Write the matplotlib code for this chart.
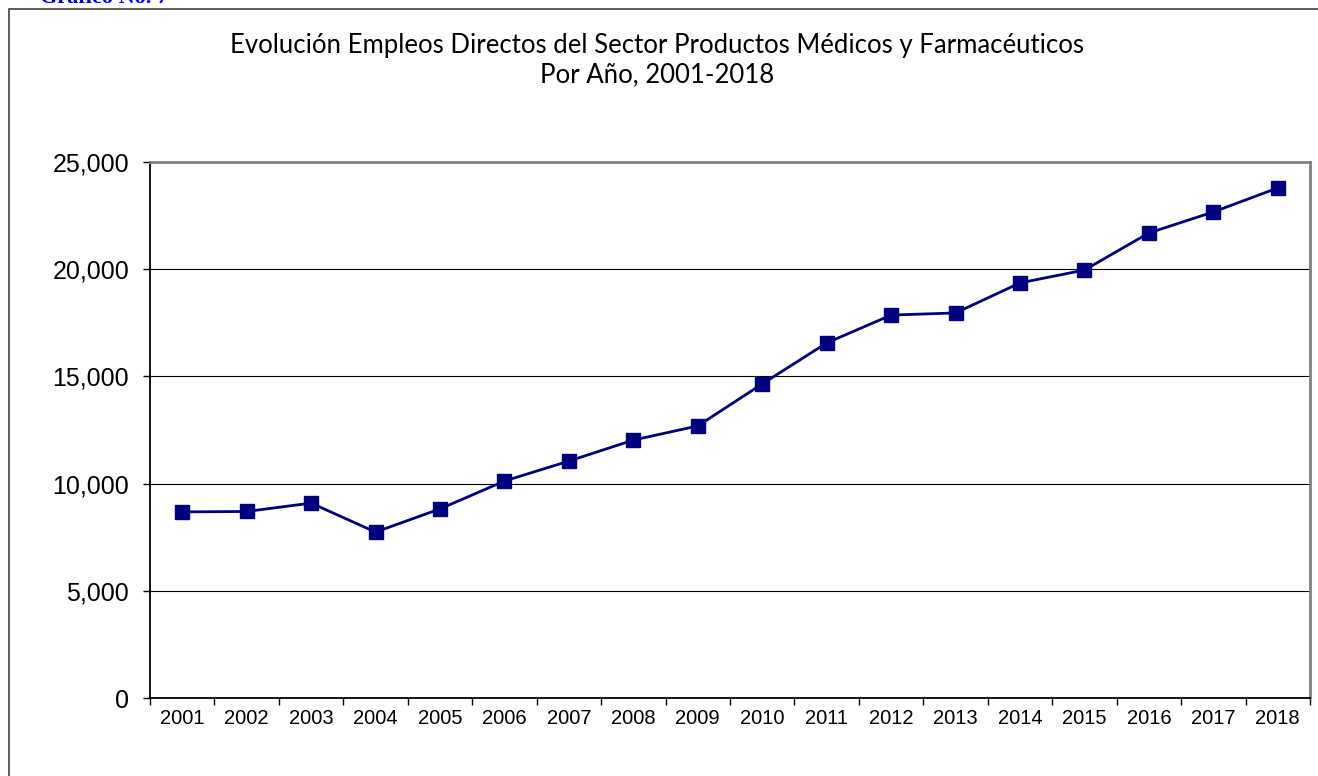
import matplotlib.pyplot as plt
from matplotlib.patches import Rectangle
from matplotlib.ticker import FuncFormatter, MultipleLocator

# data
years = ['2001', '2002', '2003', '2004', '2005', '2006', '2007', '2008', '2009',
         '2010', '2011', '2012', '2013', '2014', '2015', '2016', '2017', '2018']
empleos = [8680, 8700, 9090, 7740, 8820, 10120, 11050, 12030, 12690,
           14650, 16560, 17860, 17960, 19360, 19960, 21690, 22670, 23790]

title_text = 'Evolución Empleos Directos del Sector Productos Médicos y Farmacéuticos\nPor Año, 2001-2018'

fig = plt.figure(figsize=(13.18, 7.76), dpi=100)
ax = fig.add_axes([150 / 1318, 1 - 698 / 776, 1160 / 1318, 536 / 776])

# outer frame of the chart object (right and bottom edges fall outside the image)
fig.patches.append(Rectangle((9 / 1318, -0.2), 1.2, 1.2 - 9 / 776, transform=fig.transFigure,
                             fill=False, edgecolor='#404040', linewidth=1.2))
fig.text(40 / 1318, 1 - 3 / 776, 'Gráfico No. 7', color='#0000ff', fontsize=16,
         fontweight='bold', family='Liberation Serif', va='baseline', ha='left')

x = list(range(len(years)))
ax.plot(x, empleos, color='#000080', linewidth=2, marker='s', markersize=10,
        markerfacecolor='#000080', markeredgecolor='#000080')

ax.set_xlim(-0.5, len(years) - 0.5)
ax.set_ylim(0, 25000)
ax.yaxis.set_major_locator(MultipleLocator(5000))
ax.yaxis.set_major_formatter(FuncFormatter(lambda v, p: f'{int(v):,}'))
ax.grid(axis='y', color='black', linewidth=0.8)
ax.set_axisbelow(True)

# Excel style: ticks between categories, labels centred
ax.set_xticks([i - 0.5 for i in range(len(years) + 1)])
ax.set_xticklabels([])
ax.set_xticks(x, minor=True)
ax.set_xticklabels(years, minor=True)
ax.tick_params(axis='x', which='major', length=5, width=1, color='black')
ax.tick_params(axis='x', which='minor', length=0, pad=8)
ax.tick_params(axis='y', length=5, width=1, pad=10)

for lbl in ax.get_xticklabels(minor=True):
    lbl.set_fontsize(14.5)
    lbl.set_family('Liberation Sans')
for lbl in ax.get_yticklabels():
    lbl.set_fontsize(18)
    lbl.set_family('Liberation Sans')

ax.spines['left'].set_color('black')
ax.spines['bottom'].set_color('black')
ax.spines['left'].set_linewidth(1.3)
ax.spines['bottom'].set_linewidth(1.3)
ax.spines['top'].set_color('#808080')
ax.spines['right'].set_color('#808080')
ax.spines['top'].set_linewidth(2)
ax.spines['right'].set_linewidth(2)

fig.text(657 / 1318, 1 - 60 / 776, title_text, ha='center', va='center', fontsize=18.5,
         family='Lato', linespacing=1.25)

fig.savefig('out.png', dpi=100)
